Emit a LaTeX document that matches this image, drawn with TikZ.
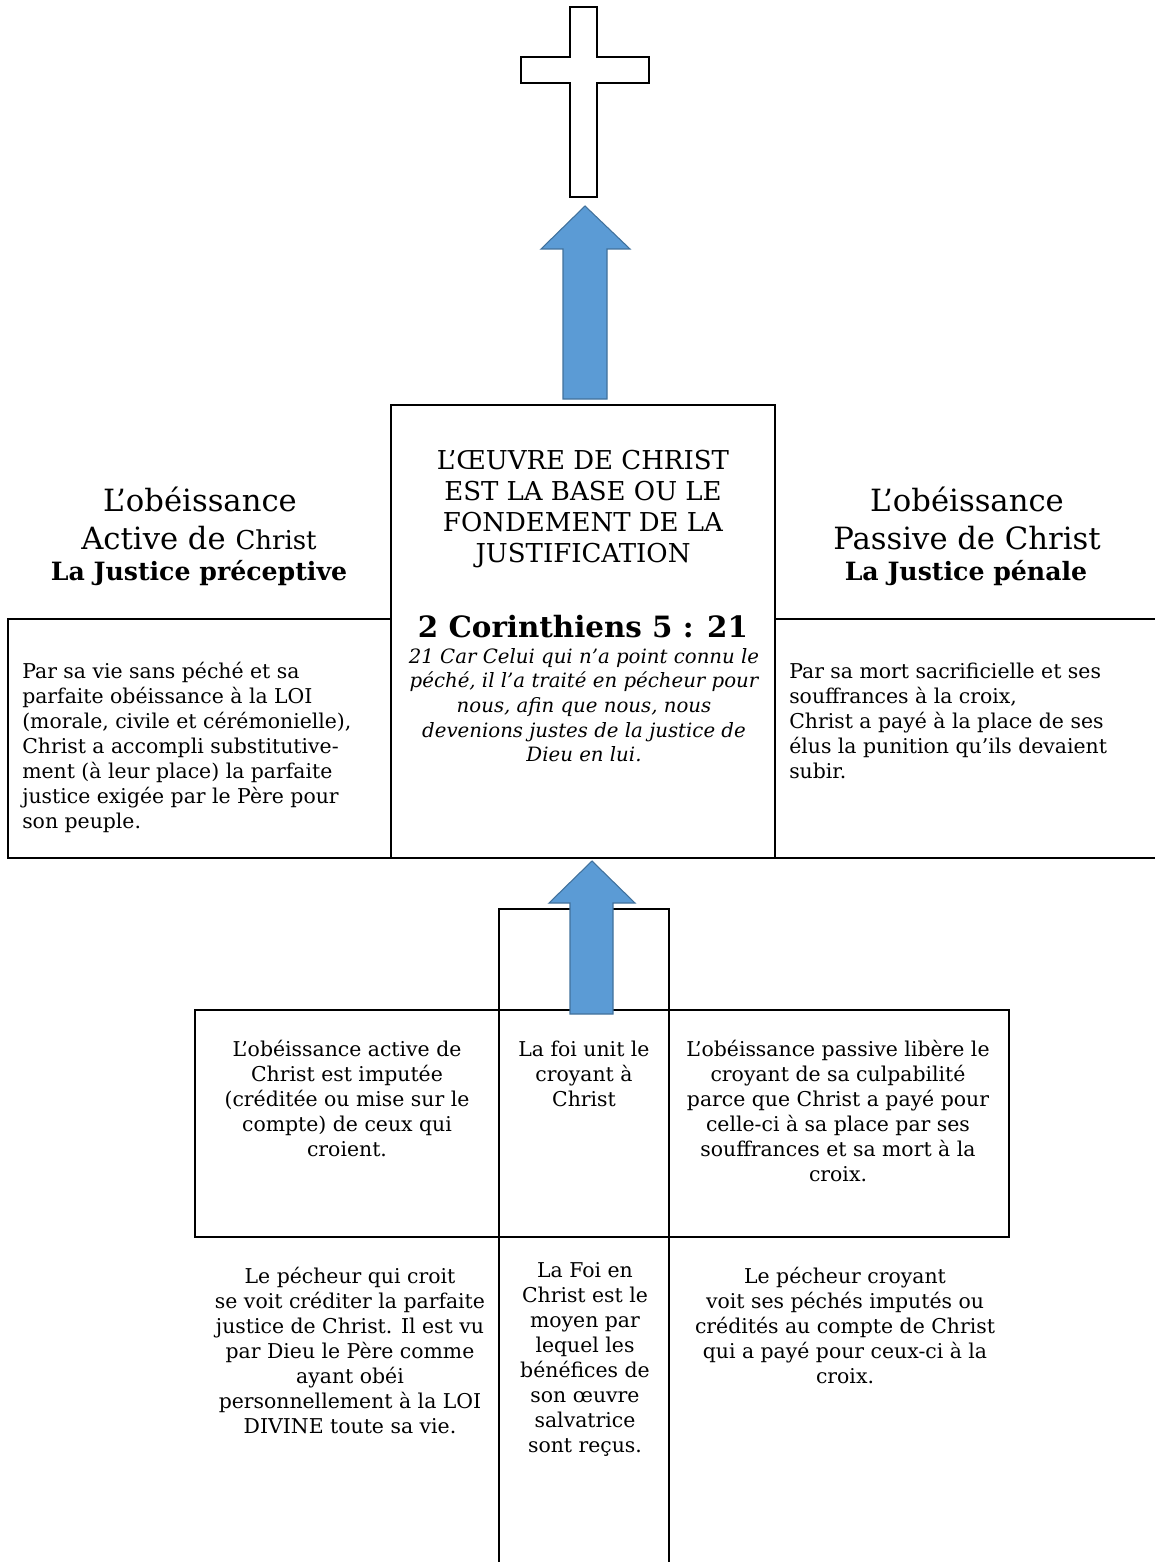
\documentclass[tikz,border=0pt]{standalone}
\usepackage{fontspec}
\setmainfont{DejaVu Serif}
\definecolor{arrowfill}{HTML}{5B9BD5}
\definecolor{arrowline}{HTML}{41719C}
\newcommand\fs{\rule{0pt}{20pt}}
\tikzset{
  box/.style={draw=black, line width=1.5pt},
  blockarrow/.style={fill=arrowfill, draw=arrowline, line width=0.8pt, line join=miter},
  crossshape/.style={draw=black, fill=white, line width=0.8pt},
  txt/.style={inner sep=0pt, anchor=north},
  body/.style={txt, font=\fontsize{15.3}{18.75}\selectfont},
  headline/.style={inner sep=0pt, anchor=base, font=\fontsize{23}{27}\selectfont},
  headbold/.style={inner sep=0pt, anchor=base, font=\fontsize{18.9}{22}\selectfont\bfseries},
}
\begin{document}
\begin{tikzpicture}[x=0.75pt, y=-0.75pt]
\useasboundingbox (0,0) rectangle (1154,1562);

% cross
\draw[crossshape] (570,7) -- (597,7) -- (597,57) -- (649,57) -- (649,83) -- (597,83)
  -- (597,197) -- (570,197) -- (570,83) -- (521,83) -- (521,57) -- (570,57) -- cycle;

% top block arrow
\draw[blockarrow] (585,206) -- (630,249) -- (607,249) -- (607,399) -- (563,399)
  -- (563,249) -- (541,249) -- cycle;

% upper boxes
\draw[box] (391,405) rectangle (775,858);
\draw[box] (8,619) rectangle (391,858);
\draw[box] (775,619) -- (1160,619);
\draw[box] (775,858) -- (1160,858);

% headings left
\node[headline] (hl1) at (200,511) {L’obéissance};
\node[headline] (hl2) at (199,549) {Active de {\fontsize{19.5}{23}\selectfont Christ}};
\node[headbold] (hl3) at (199,580) {La Justice préceptive};
% headings right
\node[headline] (hr1) at (967,511) {L’obéissance};
\node[headline] (hr2) at (967,549) {Passive de Christ};
\node[headbold] (hr3) at (966,580) {La Justice pénale};

% left body
\node[body, anchor=north west, align=left] (lb) at (22,651.3) {\fs Par sa vie sans péché et sa\\
parfaite obéissance à la LOI\\
(morale, civile et cérémonielle),\\
Christ a accompli substitutive-\\
ment (à leur place) la parfaite\\
justice exigée par le Père pour\\
son peuple.};

% right body
\node[body, anchor=north west, align=left] (rb) at (789,651.3) {\fs Par sa mort sacrificielle et ses\\
souffrances à la croix,\\
Christ a payé à la place de ses\\
élus la punition qu’ils devaient\\
subir.};

% center
\node[txt, align=center, font=\fontsize{19.5}{23.25}\selectfont] (ct) at (583,442.3)
 {\fs L’ŒUVRE DE CHRIST\\ EST LA BASE OU LE\\ FONDEMENT DE LA\\ JUSTIFICATION};
\node[inner sep=0pt, anchor=base, font=\fontsize{22}{26}\selectfont\bfseries] (cref) at (583,637)
 {2 Corinthiens 5 : 21};
\node[txt, align=center, font=\fontsize{14.8}{18.5}\selectfont\itshape] (cv) at (584,636.3)
 {\fs 21 Car Celui qui n’a point connu le\\
 péché, il l’a traité en pécheur pour\\
 nous, afin que nous, nous\\
 devenions justes de la justice de\\
 Dieu en lui.};

% lower structure
\draw[box] (499,909) rectangle (669,1575);
\draw[box] (195,1010) rectangle (1009,1237);

% lower block arrow
\draw[blockarrow] (592,861) -- (635,903) -- (613,903) -- (613,1014) -- (570,1014)
  -- (570,903) -- (549,903) -- cycle;

% lower box texts
\node[body, align=center] (ba) at (347,1029.3) {\fs L’obéissance active de\\
Christ est imputée\\
(créditée ou mise sur le\\
compte) de ceux qui\\
croient.};
\node[body, align=center] (bm) at (584,1029.3) {\fs La foi unit le\\ croyant à\\ Christ};
\node[body, align=center] (bp) at (838,1029.3) {\fs L’obéissance passive libère le\\
croyant de sa culpabilité\\
parce que Christ a payé pour\\
celle-ci à sa place par ses\\
souffrances et sa mort à la\\
croix.};

% bottom texts
\node[body, align=center] (la) at (350,1256.3) {\fs Le pécheur qui croit\\
se voit créditer la parfaite\\
justice de Christ. Il est vu\\
par Dieu le Père comme\\
ayant obéi\\
personnellement à la LOI\\
DIVINE toute sa vie.};
\node[body, align=center] (lm) at (585,1250.3) {\fs La Foi en\\
Christ est le\\
moyen par\\
lequel les\\
bénéfices de\\
son œuvre\\
salvatrice\\
sont reçus.};
\node[body, align=center] (lp) at (845,1256.3) {\fs Le pécheur croyant\\
voit ses péchés imputés ou\\
crédités au compte de Christ\\
qui a payé pour ceux-ci à la\\
croix.};
\end{tikzpicture}
\end{document}
